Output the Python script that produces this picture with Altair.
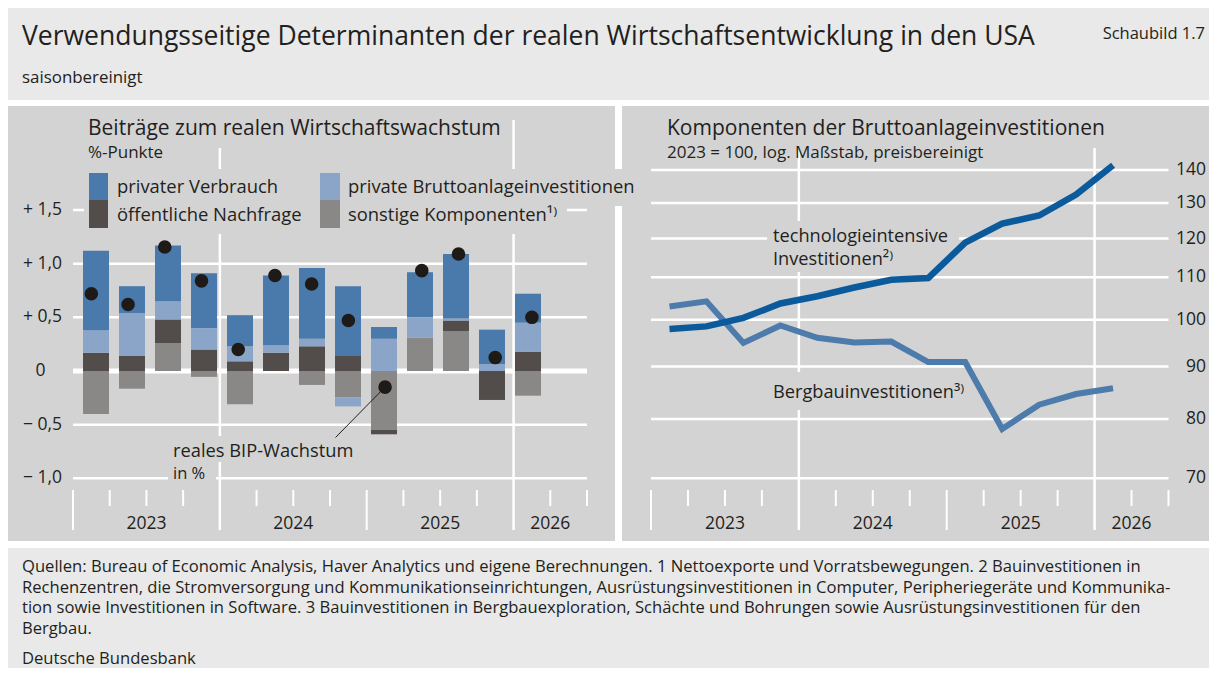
import altair as alt
import pandas as pd

# ---------------- data ----------------
quarters = list(range(13))  # Q1 2023 ... Q1 2026
verbrauch = [0.74, 0.25, 0.52, 0.51, 0.29, 0.65, 0.66, 0.65, 0.11, 0.42, 0.60, 0.32, 0.27]
brutto = [0.21, 0.40, 0.17, 0.20, 0.14, 0.07, 0.07, -0.085, 0.30, 0.19, 0.02, 0.065, 0.27]
oeffentlich = [0.17, 0.14, 0.22, 0.20, 0.09, 0.17, 0.23, 0.14, -0.04, 0.0, 0.10, -0.27, 0.18]
sonstige = [-0.40, -0.165, 0.26, -0.055, -0.31, 0.0, -0.13, -0.245, -0.55, 0.31, 0.37, 0.0, -0.23]
bip = [0.72, 0.62, 1.155, 0.84, 0.20, 0.89, 0.81, 0.47, -0.15, 0.935, 1.09, 0.125, 0.50]

tech = [97.9, 98.5, 100.4, 103.7, 105.4, 107.5, 109.4, 109.8, 118.9, 124.1, 126.4, 132.5, 141.5]
bergbau = [103.0, 104.2, 94.9, 98.7, 96.0, 95.0, 95.2, 90.9, 90.9, 78.2, 82.6, 84.6, 85.7]

comp_names = ["sonstige Komponenten", "öffentliche Nachfrage",
              "private Bruttoanlageinvestitionen", "privater Verbrauch"]
comp_colors = ["#8a8886", "#524d4a", "#8ba5c8", "#4a7aab"]

year_labels = ["2023", "2024", "2025", "2026"]
year_label_pos = [2, 6, 10, 13]
left_tick_vals = [1.5, 1.0, 0.5, -0.5, -1.0]
left_tick_labels = ["+ 1,5", "+ 1,0", "+ 0,5", "\u2212 0,5", "\u2212 1,0"]
left_grid_vals = [-1.0, -0.5, 0.5, 1.0, 1.5]
right_tick_vals = [70, 80, 90, 100, 110, 120, 130, 140]
quarter_ticks = list(range(15))
long_ticks = [0, 8]
grid_years = [4, 12]

footer_lines = [
    "Quellen: Bureau of Economic Analysis, Haver Analytics und eigene Berechnungen. 1 Nettoexporte und Vorratsbewegungen. 2 Bauinvestitionen in",
    "Rechenzentren, die Stromversorgung und Kommunikationseinrichtungen, Ausrüstungsinvestitionen in Computer, Peripheriegeräte und Kommunika-",
    "tion sowie Investitionen in Software. 3 Bauinvestitionen in Bergbauexploration, Schächte und Bohrungen sowie Ausrüstungsinvestitionen für den",
    "Bergbau.",
]

# ---------------- style ----------------
FONT = "Open Sans"
TXT = "#231f20"
PANEL = "#d3d3d3"
HEAD = "#e9e9e9"
W, H = 1201, 660
OX, OY = 8, 8


def px(X):
    return X - OX


def py(Y):
    return Y - OY


one = alt.Data(values=[{"a": 1}])


def rect(x1, y1, x2, y2, color):
    return alt.Chart(one).mark_rect(color=color).encode(
        x=alt.value(px(x1)), x2=alt.value(px(x2)),
        y=alt.value(py(y1)), y2=alt.value(py(y2)))


def text(s, X, Y, size, align="left", weight="normal", color=TXT, baseline="alphabetic"):
    return alt.Chart(one).mark_text(
        text=s, align=align, baseline=baseline, fontSize=size, font=FONT,
        fontWeight=weight, color=color).encode(x=alt.value(px(X)), y=alt.value(py(Y)))


xl = alt.Scale(domain=[0, 14], range=[px(73), px(587)], nice=False, zero=False)
yl = alt.Scale(domain=[-1.0, 1.5], range=[py(478.3), py(210)], nice=False, zero=False)
xr = alt.Scale(domain=[0, 14], range=[px(651), px(1168.5)], nice=False, zero=False)
yr = alt.Scale(type="log", domain=[70, 140], range=[py(478.3), py(170)], nice=False)

layers = []

# backgrounds
layers += [
    rect(8, 8, 1209, 100, HEAD),
    rect(8, 106, 615, 541, PANEL),
    rect(622, 106, 1209, 541, PANEL),
    rect(8, 548, 1209, 668, HEAD),
]

# ---------- left panel grid ----------
gl = pd.DataFrame({"y": left_grid_vals, "x0": 0, "x1": 14})
layers.append(alt.Chart(gl).mark_rule(color="white", strokeWidth=2.5).encode(
    y=alt.Y("y:Q", scale=yl, axis=None),
    x=alt.X("x0:Q", scale=xl, axis=None), x2="x1"))
gz = pd.DataFrame({"y": [0.0], "x0": [0], "x1": [14]})
layers.append(alt.Chart(gz).mark_rule(color="white", strokeWidth=5).encode(
    y=alt.Y("y:Q", scale=yl, axis=None),
    x=alt.X("x0:Q", scale=xl, axis=None), x2="x1"))
gv = pd.DataFrame({"x": grid_years})
layers.append(alt.Chart(gv).mark_rule(color="white", strokeWidth=2.5).encode(
    x=alt.X("x:Q", scale=xl, axis=None), y=alt.value(py(120)), y2=alt.value(py(530))))
st = pd.DataFrame({"x": [t for t in quarter_ticks if t not in long_ticks + grid_years]})
layers.append(alt.Chart(st).mark_rule(color="white", strokeWidth=2).encode(
    x=alt.X("x:Q", scale=xl, axis=None), y=alt.value(py(490)), y2=alt.value(py(506))))
lt = pd.DataFrame({"x": long_ticks})
layers.append(alt.Chart(lt).mark_rule(color="white", strokeWidth=2).encode(
    x=alt.X("x:Q", scale=xl, axis=None), y=alt.value(py(490)), y2=alt.value(py(530))))

# ---------- right panel grid ----------
gr = pd.DataFrame({"y": right_tick_vals, "x0": 0, "x1": 14})
layers.append(alt.Chart(gr).mark_rule(color="white", strokeWidth=2.5).encode(
    y=alt.Y("y:Q", scale=yr, axis=None),
    x=alt.X("x0:Q", scale=xr, axis=None), x2="x1"))
layers.append(alt.Chart(gv).mark_rule(color="white", strokeWidth=2.5).encode(
    x=alt.X("x:Q", scale=xr, axis=None), y=alt.value(py(120)), y2=alt.value(py(530))))
layers.append(alt.Chart(st).mark_rule(color="white", strokeWidth=2).encode(
    x=alt.X("x:Q", scale=xr, axis=None), y=alt.value(py(490)), y2=alt.value(py(506))))
layers.append(alt.Chart(lt).mark_rule(color="white", strokeWidth=2).encode(
    x=alt.X("x:Q", scale=xr, axis=None), y=alt.value(py(490)), y2=alt.value(py(530))))

# ---------- text background boxes (mask gridlines) ----------
layers += [
    rect(84, 112, 507, 148, PANEL),
    rect(664, 112, 1112, 148, PANEL),
    rect(84, 169, 567, 234, PANEL),
    rect(567, 169, 641, 206, PANEL),
    rect(168, 436, 360, 462, PANEL),
    rect(168, 462, 216, 483, PANEL),
    rect(767, 221, 959, 272, PANEL),
    rect(767, 372, 972, 410, PANEL),
]

# ---------- bars ----------
rows = []
for i in quarters:
    for k, vals in enumerate([sonstige, oeffentlich, brutto, verbrauch]):
        rows.append({"q": i + 0.5, "comp": comp_names[k], "ord": k, "v": vals[i]})
bars_df = pd.DataFrame(rows)
layers.append(alt.Chart(bars_df).mark_bar(size=26).encode(
    x=alt.X("q:Q", scale=xl, axis=None),
    y=alt.Y("v:Q", scale=yl, axis=None, stack="zero"),
    color=alt.Color("comp:N", scale=alt.Scale(domain=comp_names, range=comp_colors), legend=None),
    order=alt.Order("ord:Q")))

# leader line for annotation
lead = pd.DataFrame({"x": [7.15], "y": [-0.62], "x2": [8.5], "y2": [-0.15]})
layers.append(alt.Chart(lead).mark_rule(color=TXT, strokeWidth=1).encode(
    x=alt.X("x:Q", scale=xl, axis=None), y=alt.Y("y:Q", scale=yl, axis=None),
    x2="x2", y2="y2"))

dots_df = pd.DataFrame({"q": [i + 0.5 for i in quarters], "v": bip})
layers.append(alt.Chart(dots_df).mark_circle(size=185, opacity=1, color="#1e1a17").encode(
    x=alt.X("q:Q", scale=xl, axis=None),
    y=alt.Y("v:Q", scale=yl, axis=None)))

# ---------- lines ----------
lines_df = pd.DataFrame({"q": [i + 0.5 for i in quarters], "tech": tech, "berg": bergbau})
layers.append(alt.Chart(lines_df).mark_line(color="#4d7bab", strokeWidth=6).encode(
    x=alt.X("q:Q", scale=xr, axis=None), y=alt.Y("berg:Q", scale=yr, axis=None)))
layers.append(alt.Chart(lines_df).mark_line(color="#0a5a9c", strokeWidth=6.5).encode(
    x=alt.X("q:Q", scale=xr, axis=None), y=alt.Y("tech:Q", scale=yr, axis=None)))

# ---------- axis labels ----------
AX = 17.5
ll = pd.DataFrame({"v": left_tick_vals, "t": left_tick_labels})
layers.append(alt.Chart(ll).mark_text(align="right", baseline="middle", fontSize=AX, font=FONT, color=TXT).encode(
    x=alt.value(px(62)), y=alt.Y("v:Q", scale=yl, axis=None), text="t:N"))
l0 = pd.DataFrame({"v": [0.0], "t": ["0"]})
layers.append(alt.Chart(l0).mark_text(align="right", baseline="middle", fontSize=AX, font=FONT, color=TXT).encode(
    x=alt.value(px(45.5)), y=alt.Y("v:Q", scale=yl, axis=None), text="t:N"))
rl = pd.DataFrame({"v": right_tick_vals, "t": [str(v) for v in right_tick_vals]})
layers.append(alt.Chart(rl).mark_text(align="right", baseline="middle", fontSize=AX, font=FONT, color=TXT).encode(
    x=alt.value(px(1206)), y=alt.Y("v:Q", scale=yr, axis=None), text="t:N"))
yrs = pd.DataFrame({"x": year_label_pos, "t": year_labels})
layers.append(alt.Chart(yrs).mark_text(align="center", baseline="middle", fontSize=AX, font=FONT, color=TXT).encode(
    x=alt.X("x:Q", scale=xl, axis=None), y=alt.value(py(524)), text="t:N"))
layers.append(alt.Chart(yrs).mark_text(align="center", baseline="middle", fontSize=AX, font=FONT, color=TXT).encode(
    x=alt.X("x:Q", scale=xr, axis=None), y=alt.value(py(524)), text="t:N"))

# ---------- legend ----------
LG = 18.4
layers += [
    rect(89, 173, 108, 200, comp_colors[3]),
    rect(89, 200, 108, 228, comp_colors[1]),
    rect(320, 173, 340, 200, comp_colors[2]),
    rect(320, 200, 340, 228, comp_colors[0]),
    text("privater Verbrauch", 117, 193, LG),
    text("öffentliche Nachfrage", 117, 221, LG),
    text("private Bruttoanlageinvestitionen", 348, 193, LG),
    text("sonstige Komponenten\u00b9\u207e", 348, 221, LG),
]

# ---------- texts ----------
layers += [
    text("Verwendungsseitige Determinanten der realen Wirtschaftsentwicklung in den USA", 22, 45, 26.5),
    text("Schaubild 1.7", 1205, 39, 16.5, align="right"),
    text("saisonbereinigt", 22, 83, 16.9),
    text("Beiträge zum realen Wirtschaftswachstum", 88, 135, 21),
    text("%-Punkte", 88, 158, 17),
    text("Komponenten der Bruttoanlageinvestitionen", 667, 135, 21),
    text("2023 = 100, log. Maßstab, preisbereinigt", 667, 158, 17),
    text("reales BIP-Wachstum", 173, 457, 18.3),
    text("in %", 173, 479, 16.5),
    text("technologieintensive", 773, 242, 18.2),
    text("Investitionen\u00b2\u207e", 773, 265, 18.2),
    text("Bergbauinvestitionen\u00b3\u207e", 773, 398, 18.2),
]
for n, line in enumerate(footer_lines):
    layers.append(text(line, 22, 572 + 20.5 * n, 16.6))
layers.append(text("Deutsche Bundesbank", 22, 663.5, 16.6))

chart = alt.layer(*layers).resolve_scale(
    x="independent", y="independent", color="independent"
).properties(
    width=W, height=H, autosize=alt.AutoSizeParams(type="none"), padding=0, background="white"
).configure_view(stroke=None)

chart.save("out.html", embed_options={"renderer": "svg", "actions": False})
